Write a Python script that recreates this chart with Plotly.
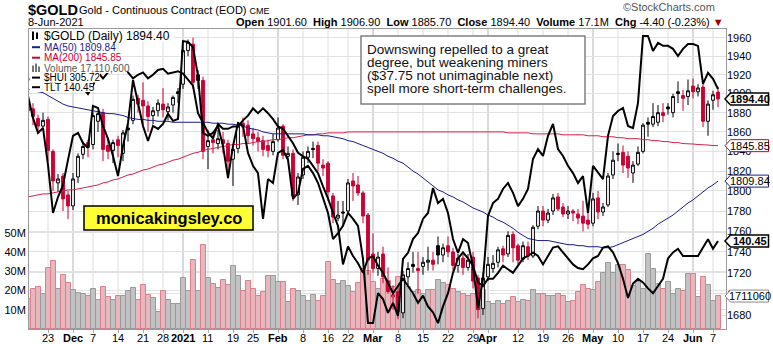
import math
import pandas as pd
import plotly.graph_objects as go

# ---------------------------------------------------------------- calendar
HOLIDAYS = {"2020-11-26", "2020-12-25", "2021-01-01", "2021-01-18",
            "2021-02-15", "2021-04-02", "2021-05-31"}
dates = [d for d in pd.bdate_range("2020-11-17", "2021-06-08")
         if d.strftime("%Y-%m-%d") not in HOLIDAYS]

# close of the session before the first bar (sets the first volume colour)
prev_close_start = 1887.0

# ---------------------------------------------------------------- $GOLD OHLC (one row per week)
open_ = [
    1888, 1884, 1874, 1866,
    1873, 1840, 1808, 1815,
    1796, 1785, 1814, 1837, 1849,
    1847, 1871, 1880, 1846, 1841,
    1852, 1838, 1864, 1872, 1895,
    1893, 1887, 1877, 1882,
    1889, 1881, 1888, 1902,
    1910, 1946, 1953, 1920, 1914,
    1845, 1852, 1848, 1852, 1848,
    1832, 1843, 1869, 1867,
    1858, 1854, 1851, 1846, 1840,
    1852, 1866, 1835, 1838, 1796,
    1816, 1834, 1843, 1846, 1826,
    1828, 1795, 1773, 1779,
    1780, 1810, 1806, 1798, 1776,
    1738, 1724, 1738, 1712, 1697,
    1702, 1682, 1716, 1728, 1724,
    1726, 1730, 1732, 1746, 1737,
    1746, 1740, 1727, 1734, 1725,
    1735, 1715, 1686, 1716,
    1724, 1730, 1743, 1738, 1757,
    1746, 1733, 1745, 1736, 1765,
    1780, 1771, 1780, 1794, 1784,
    1777, 1780, 1777, 1775, 1771,
    1768, 1793, 1779, 1786, 1816,
    1838, 1839, 1835, 1818, 1827,
    1840, 1870, 1868, 1870, 1880,
    1886, 1880, 1902, 1898, 1897,
    1908, 1902, 1907, 1871,
    1893, 1901.6,
]
high = [
    1893, 1890, 1878, 1880,
    1876, 1842, 1817, 1818,
    1800, 1818, 1838, 1850, 1852,
    1880, 1882, 1884, 1852, 1852,
    1856, 1862, 1868, 1898, 1899,
    1912, 1892, 1886, 1894,
    1906, 1890, 1898, 1906,
    1950, 1958, 1960, 1925, 1918,
    1862, 1860, 1862, 1860, 1852,
    1845, 1870, 1875, 1872,
    1864, 1860, 1856, 1852, 1858,
    1875, 1868, 1845, 1842, 1818,
    1840, 1845, 1850, 1850, 1832,
    1830, 1798, 1790, 1790,
    1812, 1818, 1815, 1800, 1778,
    1758, 1740, 1745, 1725, 1708,
    1708, 1722, 1730, 1740, 1740,
    1735, 1745, 1740, 1755, 1748,
    1755, 1744, 1738, 1740, 1738,
    1740, 1718, 1720, 1735,
    1737, 1745, 1746, 1760, 1760,
    1748, 1750, 1750, 1766, 1785,
    1785, 1782, 1797, 1798, 1788,
    1785, 1782, 1782, 1790, 1780,
    1798, 1800, 1788, 1818, 1840,
    1848, 1846, 1840, 1830, 1845,
    1869, 1875, 1890, 1888, 1890,
    1890, 1900, 1913, 1904, 1915,
    1916, 1910, 1912, 1893,
    1903, 1906.9,
]
low = [
    1870, 1867, 1858, 1862,
    1830, 1800, 1799, 1780,
    1772, 1781, 1808, 1832, 1834,
    1842, 1860, 1830, 1832, 1828,
    1834, 1830, 1850, 1868, 1880,
    1868, 1860, 1868, 1876,
    1875, 1872, 1880, 1890,
    1905, 1940, 1905, 1905, 1832,
    1822, 1838, 1842, 1838, 1812,
    1805, 1838, 1855, 1848,
    1846, 1840, 1835, 1834, 1836,
    1850, 1832, 1830, 1790, 1786,
    1812, 1828, 1833, 1820, 1815,
    1790, 1768, 1770, 1765,
    1776, 1790, 1795, 1768, 1718,
    1720, 1717, 1710, 1700, 1685,
    1676, 1677, 1708, 1720, 1700,
    1718, 1722, 1722, 1728, 1730,
    1735, 1722, 1720, 1718, 1722,
    1705, 1677, 1680, 1712,
    1720, 1725, 1730, 1735, 1730,
    1728, 1730, 1732, 1734, 1762,
    1765, 1768, 1776, 1780, 1774,
    1772, 1770, 1767, 1760, 1762,
    1765, 1772, 1775, 1784, 1812,
    1830, 1818, 1813, 1808, 1825,
    1838, 1855, 1865, 1866, 1870,
    1878, 1875, 1890, 1882, 1888,
    1895, 1897, 1865, 1856,
    1883, 1885.7,
]
close = [
    1882, 1876, 1866, 1872,
    1841, 1810, 1812, 1792,
    1785, 1812, 1835, 1845, 1844,
    1877, 1879, 1842, 1840, 1849,
    1846, 1859, 1862, 1894, 1889,
    1887, 1876, 1882, 1890,
    1883, 1886, 1896, 1900,
    1946, 1955, 1912, 1914, 1840,
    1851, 1849, 1853, 1848, 1830,
    1842, 1866, 1865, 1856,
    1853, 1850, 1842, 1841, 1850,
    1864, 1836, 1838, 1795, 1814,
    1834, 1840, 1842, 1828, 1823,
    1799, 1774, 1776, 1778,
    1808, 1805, 1798, 1775, 1732,
    1724, 1735, 1716, 1702, 1699,
    1683, 1718, 1724, 1726, 1722,
    1730, 1732, 1728, 1737, 1744,
    1740, 1727, 1734, 1725, 1732,
    1712, 1685, 1715, 1728,
    1729, 1742, 1737, 1756, 1744,
    1732, 1746, 1736, 1764, 1780,
    1771, 1778, 1793, 1782, 1777,
    1780, 1778, 1773, 1768, 1767,
    1792, 1779, 1784, 1815, 1831,
    1837, 1826, 1823, 1826, 1839,
    1867, 1868, 1876, 1880, 1877,
    1884, 1897, 1900, 1895, 1903,
    1902, 1906, 1871, 1889,
    1898.8, 1894.4,
]
# volume, millions of contracts
volume_m = [
    15.5, 20.7, 21.8, 18.1,
    31.6, 35.4, 20.7, 28.0,
    24.0, 20.2, 18.8, 18.1, 17.1,
    20.7, 15.2, 21.8, 16.6, 15.0,
    17.1, 17.1, 19.8, 21.2, 15.0,
    22.8, 17.6, 16.1, 9.0,
    19.7, 15.2, 12.9, 12.9,
    26.4, 19.8, 35.9, 19.8, 43.7,
    26.4, 23.5, 21.2, 25.4, 23.0,
    32.8, 27.5, 19.8, 24.9,
    20.7, 17.1, 19.0, 27.3, 27.6,
    24.2, 24.2, 13.8, 20.7, 19.8,
    17.3, 14.7, 17.6, 14.7, 16.9,
    34.9, 25.4, 23.3, 25.0,
    22.4, 19.3, 23.8, 31.1, 30.0,
    24.2, 21.0, 26.0, 25.0, 22.0,
    27.0, 26.0, 22.0, 19.0, 20.0,
    18.0, 20.0, 20.4, 25.6, 23.7,
    22.8, 21.0, 19.0, 18.0, 17.1,
    18.0, 22.0, 20.0, 13.8,
    12.9, 14.7, 12.9, 14.7, 16.4,
    14.0, 15.0, 14.5, 20.0, 18.0,
    18.1, 16.9, 17.3, 18.1, 17.3,
    14.1, 14.7, 19.0, 22.8, 20.7,
    20.2, 24.2, 29.3, 34.2, 29.3,
    33.2, 33.2, 30.6, 22.4, 24.2,
    20.7, 38.9, 31.1, 23.3, 20.7,
    24.2, 18.1, 20.7, 19.8, 28.5,
    28.5, 16.4, 27.0, 23.0,
    14.3, 17.1106,
]
ma50 = [
    1905, 1903, 1902, 1901,
    1898, 1895, 1892, 1889,
    1887, 1886, 1885, 1884, 1883,
    1882, 1881, 1880, 1879, 1879,
    1878, 1877, 1875, 1874, 1873,
    1873, 1872, 1872, 1871,
    1871, 1871, 1870, 1870,
    1870, 1870, 1870, 1870, 1870,
    1870, 1869, 1869, 1869, 1868,
    1868, 1867, 1866, 1864,
    1863, 1862, 1860, 1859, 1858,
    1858, 1858, 1858, 1858, 1858,
    1858, 1857, 1857, 1857, 1856,
    1856, 1855, 1854, 1853,
    1851, 1850, 1848, 1846, 1844,
    1842, 1840, 1838, 1835, 1833,
    1830, 1828, 1824, 1820, 1817,
    1813, 1809, 1805, 1801, 1799,
    1796, 1794, 1791, 1789, 1786,
    1783, 1781, 1779, 1776,
    1774, 1771, 1769, 1766, 1763,
    1759, 1756, 1753, 1752, 1751,
    1751, 1751, 1750, 1749, 1748,
    1747, 1747, 1746, 1746, 1745,
    1745, 1745, 1744, 1744, 1745,
    1747, 1749, 1751, 1753, 1755,
    1757, 1760, 1763, 1767, 1770,
    1773, 1776, 1780, 1784, 1788,
    1791, 1795, 1799, 1803,
    1806, 1809.84,
]
ma200 = [
    1794, 1795, 1796, 1797,
    1797, 1798, 1799, 1800,
    1801, 1801, 1802, 1803, 1804,
    1805, 1806, 1808, 1809, 1811,
    1812, 1814, 1816, 1817, 1819,
    1821, 1822, 1824, 1826,
    1827, 1829, 1831, 1832,
    1834, 1836, 1838, 1839, 1841,
    1842, 1843, 1844, 1845, 1846,
    1847, 1847, 1848, 1848,
    1849, 1850, 1850, 1851, 1852,
    1852, 1853, 1854, 1854, 1855,
    1856, 1857, 1857, 1858, 1858,
    1859, 1859, 1859, 1859,
    1860, 1860, 1860, 1860, 1860,
    1860, 1860, 1860, 1860, 1860,
    1860, 1860, 1860, 1860, 1860,
    1860, 1860, 1860, 1860, 1860,
    1860, 1860, 1860, 1860, 1860,
    1860, 1860, 1860, 1860,
    1860, 1860, 1860, 1859, 1859,
    1859, 1859, 1859, 1858, 1858,
    1858, 1858, 1858, 1858, 1857,
    1857, 1857, 1857, 1857, 1856,
    1856, 1856, 1855, 1855, 1855,
    1854, 1854, 1853, 1853, 1853,
    1852, 1852, 1851, 1851, 1850,
    1850, 1849, 1849, 1848, 1848,
    1847.5, 1847, 1847, 1846.5,
    1846, 1845.85,
]
# overlay: gold miners index
hui = [
    303.4, 296.1, 291.1, 292.7,
    280.4, 264.4, 269.7, 273.7,
    282.1, 290.1, 291.1, 287.7, 286.1,
    300.1, 299.4, 293.4, 289.1, 283.4,
    276.7, 286.7, 294.4, 308.7, 301.1,
    293.4, 288.4, 293.4, 292.4,
    294.1, 297.4, 295.1, 295.7,
    321.7, 321.4, 319.7, 310.1, 291.1,
    290.1, 291.1, 293.4, 286.7, 276.1,
    286.7, 294.4, 293.4, 284.4,
    280.1, 277.7, 262.4, 275.7, 274.4,
    284.4, 285.4, 282.1, 269.1, 271.1,
    279.1, 280.1, 277.7, 274.4, 269.1,
    264.4, 255.7, 257.7, 260.1,
    264.4, 262.4, 260.1, 249.1, 227.7,
    227.7, 237.7, 235.7, 231.1, 234.4,
    230.1, 249.1, 251.1, 255.7, 257.7,
    262.4, 264.4, 272.7, 267.7, 269.1,
    264.4, 255.7, 251.1, 255.7, 254.4,
    246.7, 232.7, 242.4, 263.4,
    267.7, 269.1, 272.4, 274.4, 271.1,
    266.7, 269.1, 272.4, 282.4, 285.7,
    283.4, 290.1, 294.1, 285.7, 283.4,
    280.1, 277.7, 274.4, 276.7, 264.4,
    280.1, 277.7, 275.7, 290.1, 296.7,
    298.4, 299.4, 293.4, 292.7, 301.1,
    323.4, 323.4, 318.4, 321.1, 320.1,
    320.1, 319.1, 316.7, 319.1, 320.7,
    320.7, 320.1, 307.4, 311.1,
    309.1, 305.72,
]
# overlay: 20+ year treasury ETF
tlt = [
    153.9, 154.0, 154.3, 154.5,
    153.9, 153.5, 153.9, 154.2,
    154.4, 153.4, 153.0, 153.2, 152.7,
    153.4, 154.5, 154.0, 154.5, 154.8,
    154.8, 154.8, 154.5, 154.0, 154.3,
    154.5, 154.0, 154.3, 154.7,
    154.8, 154.4, 154.5, 154.6,
    154.4, 153.9, 153.4, 151.1, 150.3,
    149.5, 149.0, 150.2, 149.8, 149.8,
    150.0, 150.0, 150.5, 150.9,
    151.5, 151.1, 151.5, 151.1, 150.6,
    150.0, 149.8, 149.2, 148.6, 147.8,
    147.5, 147.3, 146.7, 146.1, 145.0,
    144.0, 142.8, 141.7, 138.5,
    140.0, 139.2, 138.6, 137.8, 139.0,
    139.2, 138.4, 137.8, 137.0, 136.1,
    136.7, 137.3, 136.7, 136.1, 135.3,
    135.9, 135.0, 134.5, 133.6, 135.0,
    136.1, 137.8, 139.0, 139.5, 139.0,
    138.4, 137.0, 136.7, 137.3,
    137.3, 137.8, 138.4, 138.1, 137.8,
    138.4, 139.0, 139.2, 139.5, 139.2,
    138.5, 139.2, 139.9, 140.0, 139.5,
    139.0, 138.5, 138.2, 138.1, 138.5,
    139.0, 139.2, 139.9, 140.0, 139.5,
    138.6, 137.3, 135.7, 136.9, 137.3,
    137.0, 136.5, 136.1, 136.7, 137.3,
    139.0, 139.5, 139.8, 139.2, 139.2,
    139.2, 139.2, 139.9, 140.6,
    139.8, 140.45,
]

# date axis labels
tick_dates = ["2020-11-23", "2020-12-01", "2020-12-07", "2020-12-14", "2020-12-21",
              "2020-12-28", "2021-01-04", "2021-01-11", "2021-01-19", "2021-01-25",
              "2021-02-01", "2021-02-08", "2021-02-16", "2021-02-22", "2021-03-01",
              "2021-03-08", "2021-03-15", "2021-03-22", "2021-03-29", "2021-04-01",
              "2021-04-12", "2021-04-19", "2021-04-26", "2021-05-03", "2021-05-10",
              "2021-05-17", "2021-05-24", "2021-06-01", "2021-06-07"]
tick_labels = ["23", "Dec", "7", "14", "21", "28", "2021", "11", "19", "25",
               "Feb", "8", "16", "22", "Mar", "8", "15", "22", "29", "Apr",
               "12", "19", "26", "May", "10", "17", "24", "Jun", "7"]
month_labels = {"Dec", "2021", "Feb", "Mar", "Apr", "May", "Jun"}

price_ticks = list(range(1680, 1961, 20))
volume_ticks_m = [10, 20, 30, 40, 50]

# ---------------------------------------------------------------- styling / geometry
FONT = "Liberation Sans, Arial, Helvetica, sans-serif"
RED = "#cc0033"
NAVY = "#1c1c8c"
W, H = 773, 344
L, R, T, B = 29, 726, 29, 329          # plot box in page pixels
X_LO, X_HI = 0.2, 139.6                # visible bar-index window

PRICE_LO, PRICE_HI = 1667.0, 1969.5     # log price axis
VOL_HI = 155.8e6
HUI_RANGE = [225.72, 325.72]
TLT_RANGE = [133.117, 158.117]


def px(xp):
    return (xp - L) / (R - L)


def py(yp):
    return (B - yp) / (B - T)


def idx_to_paper(i):
    return (i - X_LO) / (X_HI - X_LO)


def price_to_paper(v):
    lo, hi = math.log10(PRICE_LO), math.log10(PRICE_HI)
    return (math.log10(v) - lo) / (hi - lo)


def lin_to_paper(v, rng):
    return (v - rng[0]) / (rng[1] - rng[0])


x = list(range(len(dates)))
day_index = {d.strftime("%Y-%m-%d"): i for i, d in enumerate(dates)}
prev = [prev_close_start] + close[:-1]
up = [c >= p for c, p in zip(close, prev)]


def masked(vals, keep):
    return [v if k else None for v, k in zip(vals, keep)]


fig = go.Figure()

# volume histogram (base axis, drawn first so price sits on top)
fig.add_trace(go.Bar(
    x=x, y=[v * 1e6 for v in volume_m], yaxis="y", width=1.0,
    marker=dict(color=["#c2c2c2" if u else "#e8b6bd" for u in up],
                line=dict(color=["#9a9a9a" if u else "#d9808f" for u in up], width=1)),
    hoverinfo="skip", showlegend=False))

# moving averages
fig.add_trace(go.Scatter(x=x, y=ma200, yaxis="y2", mode="lines",
                         line=dict(color="#d6224a", width=1), hoverinfo="skip", showlegend=False))
fig.add_trace(go.Scatter(x=x, y=ma50, yaxis="y2", mode="lines",
                         line=dict(color=NAVY, width=1), hoverinfo="skip", showlegend=False))

# candles: black when the close is up on the day, red when down;
# hollow when close > open, filled otherwise
down = [not u for u in up]
fig.add_trace(go.Candlestick(
    x=x, open=masked(open_, up), high=masked(high, up), low=masked(low, up),
    close=masked(close, up), yaxis="y2", whiskerwidth=0,
    increasing=dict(line=dict(color="black", width=1), fillcolor="white"),
    decreasing=dict(line=dict(color="black", width=1), fillcolor="black"),
    hoverinfo="skip", showlegend=False))
fig.add_trace(go.Candlestick(
    x=x, open=masked(open_, down), high=masked(high, down), low=masked(low, down),
    close=masked(close, down), yaxis="y2", whiskerwidth=0,
    increasing=dict(line=dict(color=RED, width=1), fillcolor="white"),
    decreasing=dict(line=dict(color=RED, width=1), fillcolor=RED),
    hoverinfo="skip", showlegend=False))

# overlays on their own hidden scales
fig.add_trace(go.Scatter(x=x, y=hui, yaxis="y3", mode="lines",
                         line=dict(color="black", width=2), hoverinfo="skip", showlegend=False))
fig.add_trace(go.Scatter(x=x, y=tlt, yaxis="y4", mode="lines",
                         line=dict(color="black", width=2), hoverinfo="skip", showlegend=False))

shapes = []
annotations = []

# vertical grid: weekly lines, darker at month starts; date labels under the axis
for d, lab in zip(tick_dates, tick_labels):
    is_month = lab in month_labels
    shapes.append(dict(type="line", xref="x", yref="paper", x0=day_index[d], x1=day_index[d],
                       y0=0, y1=1, layer="below",
                       line=dict(color="#b4b4b4" if is_month else "#dedede", width=1)))
    annotations.append(dict(text="<b>{}</b>".format(lab) if is_month else lab,
                            x=idx_to_paper(day_index[d]), y=py(337.5),
                            xanchor="center", yanchor="middle",
                            font=dict(family=FONT, size=11, color="black")))

# ---------------------------------------------------------------- header
annotations += [
    dict(text="<b>$GOLD</b>", x=px(26), y=py(10.5), xanchor="left", yanchor="middle",
         font=dict(family=FONT, size=14.5, color="black")),
    dict(text="Gold - Continuous Contract (EOD) <span style='font-size:9px'>CME</span>",
         x=px(77), y=py(10.5), xanchor="left", yanchor="middle",
         font=dict(family=FONT, size=11, color="black")),
    dict(text=dates[-1].strftime("%-d-%b-%Y"), x=px(26), y=py(22.5), xanchor="left", yanchor="middle",
         font=dict(family=FONT, size=11, color="black")),
    dict(text="\u00a9StockCharts.com", x=px(717), y=py(7.5), xanchor="right", yanchor="middle",
         font=dict(family=FONT, size=11, color="#555555")),
]
chg = close[-1] - close[-2]
info = ("<b>Open</b> {:.2f}  <b>High</b> {:.2f}  <b>Low</b> {:.2f}  <b>Close</b> {:.2f}  "
        "<b>Volume</b> {:.1f}M  <b>Chg</b> {:.2f} ({:.2f}%) "
        "<span style='color:#a00000'>\u25bc</span>").format(
    open_[-1], high[-1], low[-1], close[-1], volume_m[-1], chg, chg / close[-2] * 100)
annotations.append(dict(text=info, x=px(726), y=py(22.5), xanchor="right", yanchor="middle",
                        font=dict(family=FONT, size=11, color="black")))

# ---------------------------------------------------------------- in-chart legend
# (text, colour, font size, row centre, row top, row bottom, row right edge)
legend_rows = [
    ("$GOLD (Daily) {:.2f}".format(close[-1]), "black", 12, 35.7, 29, 41.5, 174),
    ("MA(50) {:.2f}".format(ma50[-1]), NAVY, 10, 47.2, 41.5, 52.5, 114),
    ("MA(200) {:.2f}".format(ma200[-1]), RED, 10, 57.7, 52.5, 63, 120),
    ("Volume {:,.0f}".format(volume_m[-1] * 1e6), "#555555", 10, 68.2, 63, 73, 127),
    ("$HUI {:.2f}".format(hui[-1]), "black", 10, 77.6, 73, 82.5, 100),
    ("TLT {:.2f}".format(tlt[-1]), "black", 10, 87.2, 82.5, 92, 93),
]
for text, col, size, yc, ytop, ybot, xr in legend_rows:
    shapes.append(dict(type="rect", xref="paper", yref="paper", x0=px(L + 0.5), x1=px(xr),
                       y0=py(ybot), y1=py(ytop), layer="above", fillcolor="white",
                       line=dict(width=0)))
    annotations.append(dict(text=text, x=px(42), y=py(yc), xanchor="left", yanchor="middle",
                            font=dict(family=FONT, size=size, color=col)))
# legend glyphs
for yc, col in [(47.2, NAVY), (57.7, RED), (77.6, "black"), (87.2, "black")]:
    shapes.append(dict(type="line", xref="paper", yref="paper", x0=px(32), x1=px(40),
                       y0=py(yc), y1=py(yc), layer="above", line=dict(color=col, width=2)))
for x0, x1, top in [(32, 34, 65.5), (35, 37, 63.5), (38, 40, 66.5)]:
    shapes.append(dict(type="rect", xref="paper", yref="paper", x0=px(x0), x1=px(x1),
                       y0=py(72), y1=py(top), layer="above", fillcolor="#777777",
                       line=dict(width=0)))
for xx, y0, y1 in [(33, 31.5, 40), (37, 32.5, 39)]:
    shapes.append(dict(type="rect", xref="paper", yref="paper", x0=px(xx - 1), x1=px(xx + 1),
                       y0=py(y1), y1=py(y0), layer="above", fillcolor="black", line=dict(width=0)))

# ---------------------------------------------------------------- comment box
shapes.append(dict(type="rect", xref="paper", yref="paper", x0=px(361), x1=px(585),
                   y0=py(104), y1=py(36), layer="above", fillcolor="white",
                   line=dict(color="#808080", width=1.5)))
comment = ["Downswing repelled to a great",
           "degree, but weakening miners",
           "($37.75 not unimaginable next)",
           "spell more short-term challenges."]
for k, line in enumerate(comment):
    annotations.append(dict(text=line, x=px(365), y=py(49 + 13.2 * k), xanchor="left",
                            yanchor="middle", font=dict(family=FONT, size=13.5, color="#111111")))

# ---------------------------------------------------------------- watermark box
shapes.append(dict(type="rect", xref="paper", yref="paper", x0=px(84), x1=px(253),
                   y0=py(230), y1=py(206), layer="above", fillcolor="#ffff33",
                   line=dict(color="black", width=1.5)))
annotations.append(dict(text="<b>monicakingsley.co</b>", x=px(168.5), y=py(218.5),
                        xanchor="center", yanchor="middle",
                        font=dict(family=FONT, size=16.5, color="black")))

# ---------------------------------------------------------------- last-value tags on the right
def tag(paper_y, text, col, bold):
    half = 6.0 / (B - T)
    xt, xs, xr = px(725), px(730.5), px(768.5)
    path = "M {a},{y} L {b},{t} L {c},{t} L {c},{u} L {b},{u} Z".format(
        a=xt, b=xs, c=xr, y=paper_y, t=paper_y + half, u=paper_y - half)
    shapes.append(dict(type="path", path=path, xref="paper", yref="paper", layer="above",
                       fillcolor="white", line=dict(color=col, width=1.5 if bold else 1)))
    annotations.append(dict(text="<b>{}</b>".format(text) if bold else text,
                            x=px(749.5), y=paper_y, xanchor="center", yanchor="middle",
                            font=dict(family=FONT, size=11, color="black")))


tag(price_to_paper(close[-1]), "{:.2f}".format(close[-1]), "black", True)
tag(price_to_paper(ma200[-1]), "{:.2f}".format(ma200[-1]), RED, False)
tag(price_to_paper(ma50[-1]), "{:.2f}".format(ma50[-1]), NAVY, False)
tag(lin_to_paper(tlt[-1], TLT_RANGE), "{:.2f}".format(tlt[-1]), "black", True)
tag(volume_m[-1] * 1e6 / VOL_HI, "{:.0f}".format(volume_m[-1] * 1e6)[:7], "#888888", False)

# ---------------------------------------------------------------- layout
fig.update_layout(
    template="none",
    width=W, height=H,
    margin=dict(l=L, r=W - R, t=T, b=H - B, pad=0),
    paper_bgcolor="white", plot_bgcolor="white",
    bargap=0, boxgap=0.2, showlegend=False, hovermode=False,
    xaxis=dict(range=[X_LO, X_HI], showgrid=False, zeroline=False,
               tickmode="array", tickvals=[day_index[d] for d in tick_dates],
               showticklabels=False, ticks="outside", ticklen=3, tickcolor="#aaaaaa",
               showline=True, mirror=True, linecolor="#9a9a9a", linewidth=1,
               rangeslider=dict(visible=False), fixedrange=True),
    yaxis=dict(range=[0, VOL_HI], side="left", tickmode="array",
               tickvals=[v * 1e6 for v in volume_ticks_m],
               ticktext=["{}M".format(v) for v in volume_ticks_m],
               tickfont=dict(family=FONT, size=11, color="black"),
               showgrid=True, gridcolor="#e2e2e2", zeroline=False, ticks="",
               showline=True, mirror=True, linecolor="#9a9a9a", linewidth=1, fixedrange=True),
    yaxis2=dict(overlaying="y", side="right", type="log",
                range=[math.log10(PRICE_LO), math.log10(PRICE_HI)],
                tickmode="array", tickvals=price_ticks, ticktext=[str(v) for v in price_ticks],
                tickfont=dict(family=FONT, size=11, color="black"),
                showgrid=True, gridcolor="#e2e2e2", zeroline=False, ticks="",
                showline=False, fixedrange=True),
    yaxis3=dict(overlaying="y", range=HUI_RANGE, visible=False, fixedrange=True),
    yaxis4=dict(overlaying="y", range=TLT_RANGE, visible=False, fixedrange=True),
    shapes=shapes,
    annotations=[dict(a, xref="paper", yref="paper", showarrow=False) for a in annotations],
)

fig.write_html("out.html")
